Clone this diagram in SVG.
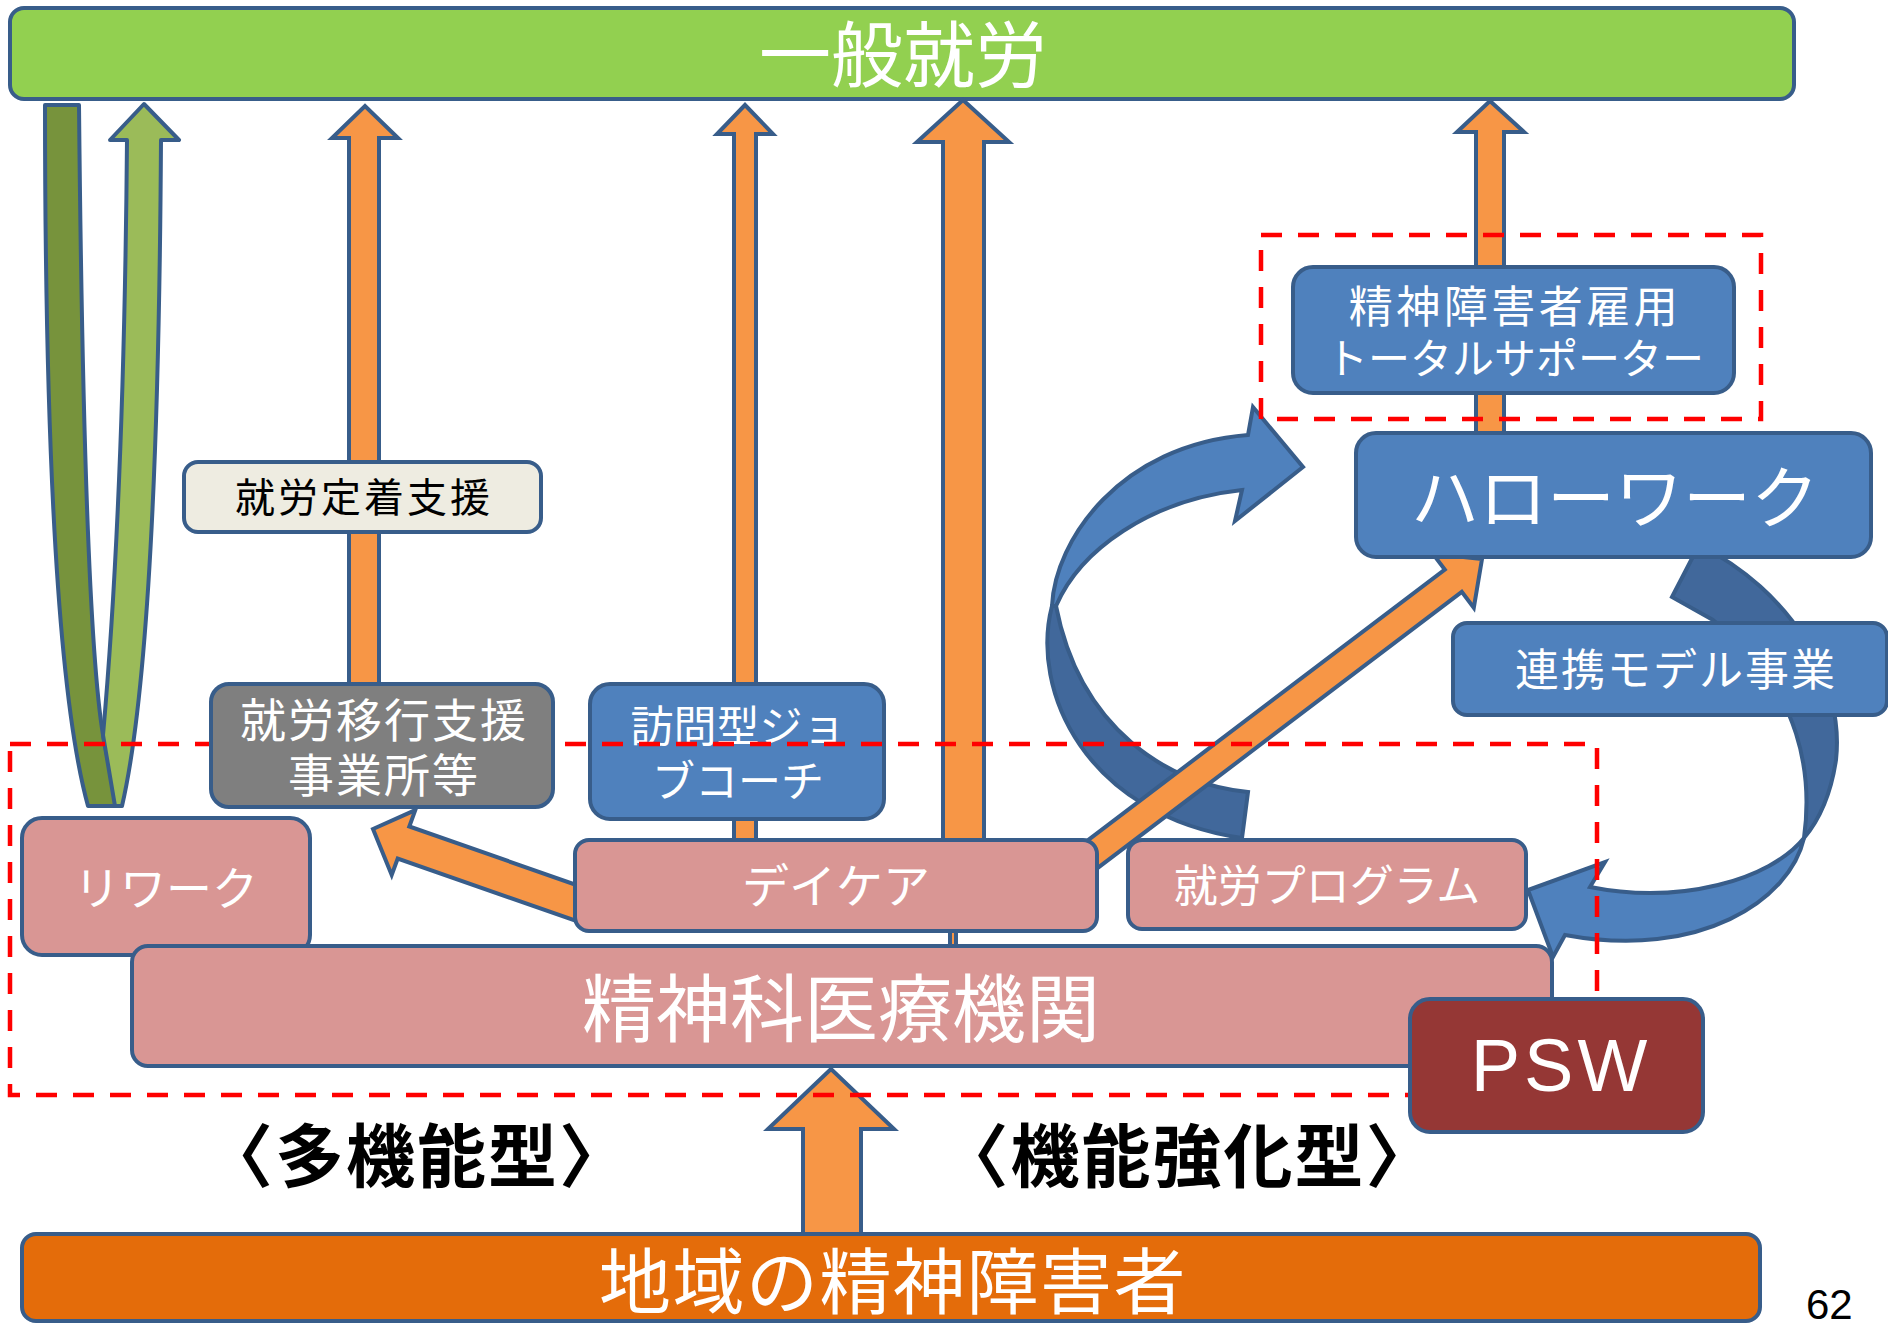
<svg xmlns="http://www.w3.org/2000/svg" width="1888" height="1324" viewBox="0 0 1888 1324">
<style>
.bx{stroke:#385D8A;stroke-width:4}
.arr{fill:#F79646;stroke:#385D8A;stroke-width:4;stroke-linejoin:miter}
.bl{fill:#4F81BD;stroke:#385D8A;stroke-width:4}
.bd{fill:#41689B;stroke:#385D8A;stroke-width:4}
.t{font-family:"Noto Sans CJK JP","Noto Sans",sans-serif;fill:#FFFFFF;text-anchor:middle}
.k{font-family:"Noto Sans CJK JP","Noto Sans",sans-serif;fill:#000000;text-anchor:middle}
.dash{fill:none;stroke:#FF0000;stroke-width:4.5;stroke-dasharray:21 16}
.blue{fill:#4F81BD}
.pink{fill:#D99694}
</style>
<rect width="1888" height="1324" fill="#FFFFFF"/>

<g id="ippan-shuro">
<rect class="bx" x="10" y="8" width="1784" height="91" rx="14" fill="#92D050"/>
<text class="t" x="903" y="81" font-size="72">一般就労</text>
</g>

<g id="connectors">
<path class="arr" d="M349,690 L349,138 L332,138 L365,106 L398,138 L379,138 L379,690 Z"/>
<path class="arr" d="M734,845 L734,134 L717,134 L745,105 L773,134 L756,134 L756,845 Z"/>
<path class="arr" d="M943,845 L943,142 L917,142 L963,100 L1009,142 L984,142 L984,845 Z"/>
<path class="arr" d="M1476,440 L1476,132 L1457,132 L1490,101 L1524,132 L1504,132 L1504,440 Z"/>
<rect class="arr" x="950" y="928" width="6" height="20" stroke-width="2"/>
<path class="arr" d="M803,1240 L803,1129 L768,1129 L831,1069 L894,1129 L861,1129 L861,1240 Z"/>
<path class="arr" d="M373,829 L415.3,810.1 L409.3,826.5 L590.8,890 L579.2,922 L397.7,858.5 L391.7,874.9 Z"/>
<path d="M45,105 L79,105 Q84,620 103,735 L117,806 L88,806 Q45,650 45,105 Z" fill="#77933C" stroke="#385D8A" stroke-width="4" stroke-linejoin="round"/>
<path d="M144,104 L179,140 L161,140 Q158,650 122,806 L115,806 L103,735 Q124,500 127,140 L110,140 Z" fill="#9BBB59" stroke="#385D8A" stroke-width="4" stroke-linejoin="round"/>
<path class="bd" d="M1052,606 C1030,690 1085,815 1242,838 L1248,792 C1170,785 1080,730 1056,606 Z"/>
<path class="bl" d="M1052,606 C1055,540 1120,445 1248,435 L1253,407 L1303,467 L1235,521 L1242,490 C1150,500 1080,550 1056,606 Z"/>
<path class="arr" d="M1076.5,848.8 L1444.8,569.6 L1432.8,553.7 L1482,559 L1473.8,607.8 L1461.8,591.9 L1093.5,871.2 Z"/>
<path class="bd" d="M1672,597 L1699,545 C1790,590 1845,680 1836,760 C1830,800 1815,825 1804,838 C1812,780 1805,690 1713,620 Z"/>
<path class="bl" d="M1804,838 C1790,900 1700,960 1565,935 L1553,957 L1528,890 L1605,862 L1590,887 C1680,905 1770,880 1804,838 Z"/>
</g>

<g id="houmon-job-coach">
<rect class="bx blue" x="590" y="684" width="294" height="135" rx="20"/>
<text class="t" x="738" y="742" font-size="43">訪問型ジョ</text>
<text class="t" x="738" y="797" font-size="43">ブコーチ</text>
</g>

<g id="groups">
<rect class="dash" x="10" y="744" width="1587" height="351"/>
<rect class="dash" x="1261" y="235" width="500" height="184"/>
</g>

<g id="shuro-ikou">
<rect class="bx" x="211" y="684" width="342" height="123" rx="18" fill="#7F7F7F"/>
<text class="t" x="384" y="737" font-size="46" letter-spacing="2">就労移行支援</text>
<text class="t" x="384" y="792" font-size="46" letter-spacing="2">事業所等</text>
</g>

<g id="shuro-teichaku">
<rect class="bx" x="184" y="462" width="357" height="70" rx="14" fill="#EEECE1"/>
<text class="k" x="364" y="512" font-size="40" letter-spacing="3">就労定着支援</text>
</g>

<g id="rework">
<rect class="bx pink" x="22" y="818" width="288" height="137" rx="20"/>
<text class="t" x="166" y="905" font-size="46">リワーク</text>
</g>

<g id="daycare">
<rect class="bx pink" x="575" y="840" width="522" height="91" rx="14"/>
<text class="t" x="836" y="903" font-size="47">デイケア</text>
</g>

<g id="shuro-program">
<rect class="bx pink" x="1128" y="840" width="398" height="89" rx="14"/>
<text class="t" x="1327" y="902" font-size="44">就労プログラム</text>
</g>

<g id="seishinka">
<rect class="bx pink" x="132" y="946" width="1420" height="120" rx="16"/>
<text class="t" x="841" y="1036" font-size="74">精神科医療機関</text>
</g>

<g id="psw">
<rect class="bx" x="1410" y="999" width="293" height="133" rx="20" fill="#953735"/>
<text x="1561" y="1091" font-size="74" letter-spacing="4" font-family="'Liberation Sans',Arial,sans-serif" fill="#FFFFFF" text-anchor="middle">PSW</text>
</g>

<g id="total-supporter">
<rect class="bx blue" x="1293" y="267" width="441" height="126" rx="20"/>
<text class="t" x="1515" y="323" font-size="44" letter-spacing="3.5">精神障害者雇用</text>
<text class="t" x="1515" y="374" font-size="42">トータルサポーター</text>
</g>

<g id="hello-work">
<rect class="bx blue" x="1356" y="433" width="515" height="124" rx="20"/>
<text class="t" x="1615" y="523" font-size="68">ハローワーク</text>
</g>

<g id="renkei-model">
<rect class="bx blue" x="1453" y="623" width="434" height="92" rx="14"/>
<text class="t" x="1676" y="686" font-size="44" letter-spacing="2">連携モデル事業</text>
</g>

<g id="chiiki">
<rect class="bx" x="22" y="1234" width="1738" height="87" rx="14" fill="#E46C0A"/>
<text class="t" x="893" y="1308" font-size="72" letter-spacing="1.5">地域の精神障害者</text>
</g>

<g id="labels">
<text class="k" x="417" y="1182" font-size="69" font-weight="bold" letter-spacing="2">〈多機能型〉</text>
<text class="k" x="1188" y="1182" font-size="69" font-weight="bold" letter-spacing="2">〈機能強化型〉</text>
<text x="1806" y="1319" font-size="42" font-family="'Liberation Sans',Arial,sans-serif" fill="#000000">62</text>
</g>
</svg>
